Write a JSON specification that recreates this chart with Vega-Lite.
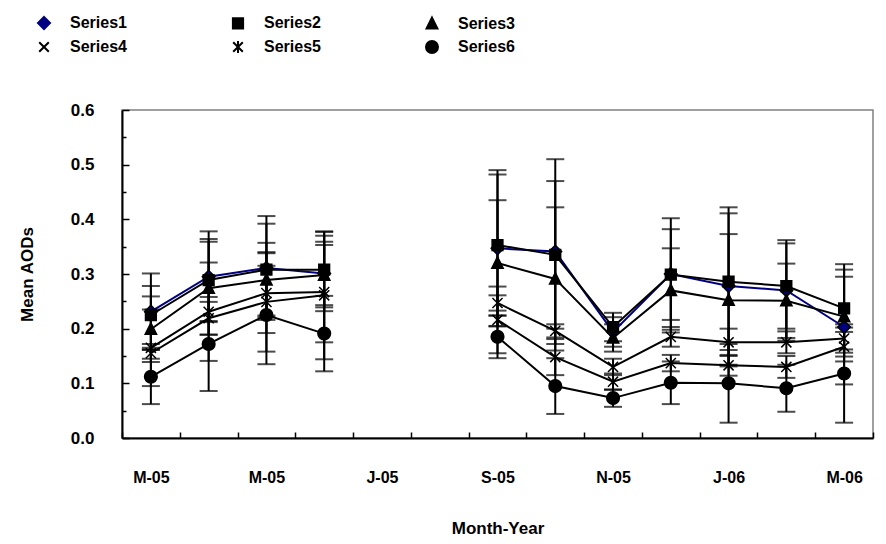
{
  "$schema": "https://vega.github.io/schema/vega-lite/v6.json",
  "width": 751,
  "height": 328,
  "autosize": {"type": "none"},
  "padding": {"left": 122, "top": 110, "right": 13, "bottom": 106},
  "background": "white",
  "config": {
    "view": {"stroke": "#808080", "strokeWidth": 1.5},
    "font": "Liberation Sans",
    "axis": {
      "labelFont": "Liberation Sans",
      "titleFont": "Liberation Sans",
      "labelFontWeight": "bold",
      "titleFontWeight": "bold",
      "labelColor": "black",
      "titleColor": "black",
      "domainColor": "black",
      "tickColor": "black",
      "grid": false,
      "domainWidth": 2,
      "tickWidth": 1.5
    },
    "legend": {
      "labelFont": "Liberation Sans",
      "labelFontWeight": "bold",
      "labelFontSize": 16,
      "labelColor": "black"
    }
  },
  "data": {
    "values": [
      {"month": "2005-03", "series": "Series1", "aod": 0.231, "err": 0.07},
      {"month": "2005-04", "series": "Series1", "aod": 0.295, "err": 0.083},
      {"month": "2005-05", "series": "Series1", "aod": 0.311, "err": 0.095},
      {"month": "2005-06", "series": "Series1", "aod": 0.301, "err": 0.069},
      {"month": "2005-07", "series": "Series1", "aod": null, "err": null},
      {"month": "2005-08", "series": "Series1", "aod": null, "err": null},
      {"month": "2005-09", "series": "Series1", "aod": 0.347, "err": 0.143},
      {"month": "2005-10", "series": "Series1", "aod": 0.341, "err": 0.169},
      {"month": "2005-11", "series": "Series1", "aod": 0.194, "err": 0.027},
      {"month": "2005-12", "series": "Series1", "aod": 0.300, "err": 0.102},
      {"month": "2006-01", "series": "Series1", "aod": 0.278, "err": 0.144},
      {"month": "2006-02", "series": "Series1", "aod": 0.270, "err": 0.092},
      {"month": "2006-03", "series": "Series1", "aod": 0.203, "err": 0.105},

      {"month": "2005-03", "series": "Series2", "aod": 0.225, "err": 0.053},
      {"month": "2005-04", "series": "Series2", "aod": 0.289, "err": 0.075},
      {"month": "2005-05", "series": "Series2", "aod": 0.308, "err": 0.084},
      {"month": "2005-06", "series": "Series2", "aod": 0.308, "err": 0.069},
      {"month": "2005-07", "series": "Series2", "aod": null, "err": null},
      {"month": "2005-08", "series": "Series2", "aod": null, "err": null},
      {"month": "2005-09", "series": "Series2", "aod": 0.353, "err": 0.129},
      {"month": "2005-10", "series": "Series2", "aod": 0.335, "err": 0.135},
      {"month": "2005-11", "series": "Series2", "aod": 0.203, "err": 0.026},
      {"month": "2005-12", "series": "Series2", "aod": 0.299, "err": 0.083},
      {"month": "2006-01", "series": "Series2", "aod": 0.286, "err": 0.125},
      {"month": "2006-02", "series": "Series2", "aod": 0.278, "err": 0.078},
      {"month": "2006-03", "series": "Series2", "aod": 0.237, "err": 0.081},

      {"month": "2005-03", "series": "Series3", "aod": 0.199, "err": 0.06},
      {"month": "2005-04", "series": "Series3", "aod": 0.274, "err": 0.085},
      {"month": "2005-05", "series": "Series3", "aod": 0.289, "err": 0.068},
      {"month": "2005-06", "series": "Series3", "aod": 0.298, "err": 0.055},
      {"month": "2005-07", "series": "Series3", "aod": null, "err": null},
      {"month": "2005-08", "series": "Series3", "aod": null, "err": null},
      {"month": "2005-09", "series": "Series3", "aod": 0.320, "err": 0.115},
      {"month": "2005-10", "series": "Series3", "aod": 0.291, "err": 0.131},
      {"month": "2005-11", "series": "Series3", "aod": 0.183, "err": 0.025},
      {"month": "2005-12", "series": "Series3", "aod": 0.270, "err": 0.077},
      {"month": "2006-01", "series": "Series3", "aod": 0.252, "err": 0.121},
      {"month": "2006-02", "series": "Series3", "aod": 0.251, "err": 0.068},
      {"month": "2006-03", "series": "Series3", "aod": 0.222, "err": 0.073},

      {"month": "2005-03", "series": "Series4", "aod": 0.165, "err": 0.07},
      {"month": "2005-04", "series": "Series4", "aod": 0.231, "err": 0.09},
      {"month": "2005-05", "series": "Series4", "aod": 0.265, "err": 0.073},
      {"month": "2005-06", "series": "Series4", "aod": 0.267, "err": 0.092},
      {"month": "2005-07", "series": "Series4", "aod": null, "err": null},
      {"month": "2005-08", "series": "Series4", "aod": null, "err": null},
      {"month": "2005-09", "series": "Series4", "aod": 0.247, "err": 0.014},
      {"month": "2005-10", "series": "Series4", "aod": 0.196, "err": 0.012},
      {"month": "2005-11", "series": "Series4", "aod": 0.130, "err": 0.015},
      {"month": "2005-12", "series": "Series4", "aod": 0.185, "err": 0.018},
      {"month": "2006-01", "series": "Series4", "aod": 0.175, "err": 0.025},
      {"month": "2006-02", "series": "Series4", "aod": 0.175, "err": 0.02},
      {"month": "2006-03", "series": "Series4", "aod": 0.182, "err": 0.02},

      {"month": "2005-03", "series": "Series5", "aod": 0.155, "err": 0.01},
      {"month": "2005-04", "series": "Series5", "aod": 0.219, "err": 0.03},
      {"month": "2005-05", "series": "Series5", "aod": 0.249, "err": 0.091},
      {"month": "2005-06", "series": "Series5", "aod": 0.261, "err": 0.117},
      {"month": "2005-07", "series": "Series5", "aod": null, "err": null},
      {"month": "2005-08", "series": "Series5", "aod": null, "err": null},
      {"month": "2005-09", "series": "Series5", "aod": 0.216, "err": 0.061},
      {"month": "2005-10", "series": "Series5", "aod": 0.148, "err": 0.033},
      {"month": "2005-11", "series": "Series5", "aod": 0.103, "err": 0.015},
      {"month": "2005-12", "series": "Series5", "aod": 0.137, "err": 0.015},
      {"month": "2006-01", "series": "Series5", "aod": 0.133, "err": 0.019},
      {"month": "2006-02", "series": "Series5", "aod": 0.130, "err": 0.02},
      {"month": "2006-03", "series": "Series5", "aod": 0.167, "err": 0.027},

      {"month": "2005-03", "series": "Series6", "aod": 0.112, "err": 0.05},
      {"month": "2005-04", "series": "Series6", "aod": 0.172, "err": 0.086},
      {"month": "2005-05", "series": "Series6", "aod": 0.225, "err": 0.09},
      {"month": "2005-06", "series": "Series6", "aod": 0.191, "err": 0.069},
      {"month": "2005-07", "series": "Series6", "aod": null, "err": null},
      {"month": "2005-08", "series": "Series6", "aod": null, "err": null},
      {"month": "2005-09", "series": "Series6", "aod": 0.185, "err": 0.039},
      {"month": "2005-10", "series": "Series6", "aod": 0.095, "err": 0.051},
      {"month": "2005-11", "series": "Series6", "aod": 0.073, "err": 0.016},
      {"month": "2005-12", "series": "Series6", "aod": 0.101, "err": 0.039},
      {"month": "2006-01", "series": "Series6", "aod": 0.100, "err": 0.072},
      {"month": "2006-02", "series": "Series6", "aod": 0.091, "err": 0.043},
      {"month": "2006-03", "series": "Series6", "aod": 0.118, "err": 0.09}
    ]
  },
  "encoding": {
    "x": {
      "field": "month",
      "type": "ordinal",
      "scale": {
        "type": "band",
        "domain": ["2005-03", "2005-04", "2005-05", "2005-06", "2005-07", "2005-08", "2005-09", "2005-10", "2005-11", "2005-12", "2006-01", "2006-02", "2006-03"],
        "paddingInner": 0,
        "paddingOuter": 0
      },
      "axis": {
        "title": "Month-Year",
        "titleFontSize": 17,
        "titlePadding": 35,
        "tickBand": "extent",
        "tickSize": -6,
        "labelPadding": 37,
        "labelAngle": 0,
        "labelFontSize": 16,
        "labelExpr": "datum.value == '2005-03' ? 'M-05' : datum.value == '2005-05' ? 'M-05' : datum.value == '2005-07' ? 'J-05' : datum.value == '2005-09' ? 'S-05' : datum.value == '2005-11' ? 'N-05' : datum.value == '2006-01' ? 'J-06' : datum.value == '2006-03' ? 'M-06' : ''"
      }
    },
    "color": {
      "field": "series",
      "type": "nominal",
      "scale": {"domain": ["Series1", "Series2", "Series3", "Series4", "Series5", "Series6"], "range": ["#000080", "black", "black", "black", "black", "black"]},
      "legend": {
        "title": null,
        "orient": "none",
        "legendX": -86,
        "legendY": -95,
        "direction": "horizontal",
        "columns": 3,
        "padding": 0,
        "symbolSize": 144,
        "symbolStrokeWidth": 2,
        "labelOffset": 18,
        "columnPadding": 101,
        "rowPadding": 4,
        "encode": {
          "symbols": {
            "update": {
              "shape": {
                "condition": [
                  {"test": "datum.value === 'Series1'", "value": "M-3.6,0H3.6M0,-1L1,0L0,1L-1,0Z"},
                  {"test": "datum.value === 'Series2'", "value": "M-3.6,0H3.6M-0.85,-0.85H0.85V0.85H-0.85Z"},
                  {"test": "datum.value === 'Series3'", "value": "M-3.6,0H3.6M0,-1L0.9,0.8H-0.9Z"},
                  {"test": "datum.value === 'Series4'", "value": "M-3.6,0H3.6M-0.8,-0.8L0.8,0.8M0.8,-0.8L-0.8,0.8"},
                  {"test": "datum.value === 'Series5'", "value": "M-3.6,0H3.6M-0.8,-0.8L0.8,0.8M0.8,-0.8L-0.8,0.8M0,-1V1"}
                ],
                "value": "M-3.6,0H3.6M1,0A1,1,0,1,1,-1,0A1,1,0,1,1,1,0Z"
              },
              "stroke": {"condition": {"test": "datum.value === 'Series1'", "value": "#000080"}, "value": "black"},
              "fill": {"condition": {"test": "datum.value === 'Series1'", "value": "#000080"}, "value": "black"},
              "strokeWidth": {"value": 2},
              "opacity": {"value": 1}
            },
            "shape": {
              "condition": [
                {"test": "datum.value === 'Series1'", "value": "M-3.6,0H3.6M0,-1L1,0L0,1L-1,0Z"},
                {"test": "datum.value === 'Series2'", "value": "M-3.6,0H3.6M-0.85,-0.85H0.85V0.85H-0.85Z"},
                {"test": "datum.value === 'Series3'", "value": "M-3.6,0H3.6M0,-1L0.9,0.8H-0.9Z"},
                {"test": "datum.value === 'Series4'", "value": "M-3.6,0H3.6M-0.8,-0.8L0.8,0.8M0.8,-0.8L-0.8,0.8"},
                {"test": "datum.value === 'Series5'", "value": "M-3.6,0H3.6M-0.8,-0.8L0.8,0.8M0.8,-0.8L-0.8,0.8M0,-1V1"}
              ],
              "value": "M-3.6,0H3.6M1,0A1,1,0,1,1,-1,0A1,1,0,1,1,1,0Z"
            },
            "stroke": {"condition": {"test": "datum.value === 'Series1'", "value": "#000080"}, "value": "black"},
            "fill": {"condition": {"test": "datum.value === 'Series1'", "value": "#000080"}, "value": "black"},
            "strokeWidth": {"value": 2},
            "opacity": {"value": 1}
          }
        }
      }
    }
  },
  "resolve": {"axis": {"y": "independent"}},
  "layer": [
    {
      "transform": [{"filter": "isValid(datum.aod)"}],
      "mark": {"type": "errorbar", "thickness": 2, "ticks": {"size": 18, "thickness": 2}},
      "encoding": {
        "y": {"field": "aod", "type": "quantitative", "scale": {"domain": [0, 0.6], "nice": false}, "axis": null},
        "yError": {"field": "err"},
        "color": {"value": "black"}
      }
    },
    {
      "mark": {"type": "line", "strokeWidth": 2},
      "encoding": {
        "y": {
          "field": "aod",
          "type": "quantitative",
          "scale": {"domain": [0, 0.6], "nice": false},
          "axis": {
            "orient": "left",
            "title": "Mean AODs",
            "titleFontSize": 17,
            "titlePadding": 34,
            "values": [0, 0.1, 0.2, 0.3, 0.4, 0.5, 0.6],
            "format": ".1f",
            "tickSize": -7,
            "labelPadding": 35,
            "labelFontSize": 17
          }
        }
      }
    },
    {
      "transform": [{"filter": "isValid(datum.aod)"}],
      "mark": {"type": "point", "filled": true, "size": 160, "opacity": 1, "strokeWidth": 1.5, "stroke": "black"},
      "encoding": {
        "y": {
          "field": "aod",
          "type": "quantitative",
          "scale": {"domain": [0, 0.6], "nice": false},
          "axis": {
            "orient": "left",
            "title": null,
            "values": [0.05, 0.15, 0.25, 0.35, 0.45, 0.55],
            "labels": false,
            "domain": false,
            "tickSize": -4
          }
        },
        "shape": {
          "field": "series",
          "type": "nominal",
          "scale": {
            "domain": ["Series1", "Series2", "Series3", "Series4", "Series5", "Series6"],
            "range": [
              "M0,-1L1,0L0,1L-1,0Z",
              "M-0.85,-0.85H0.85V0.85H-0.85Z",
              "M0,-1L0.9,0.8H-0.9Z",
              "M-0.8,-0.8L0.8,0.8M0.8,-0.8L-0.8,0.8",
              "M-0.8,-0.8L0.8,0.8M0.8,-0.8L-0.8,0.8M0,-1V1",
              "M1,0A1,1,0,1,1,-1,0A1,1,0,1,1,1,0Z"
            ]
          },
          "legend": null
        }
      }
    }
  ]
}
